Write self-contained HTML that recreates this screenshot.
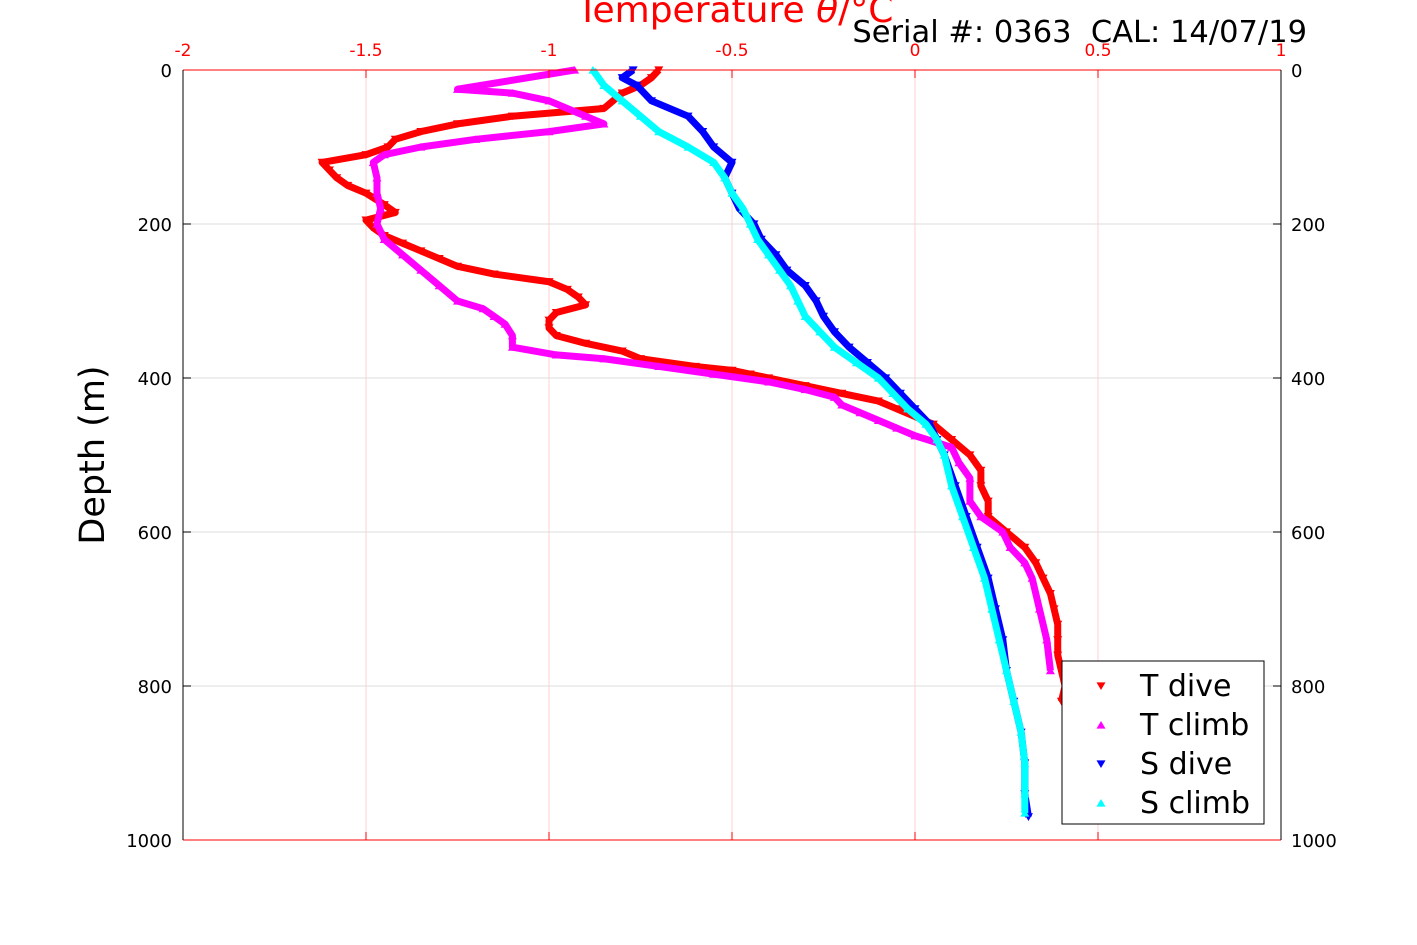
<!DOCTYPE html>
<html><head><meta charset="utf-8"><style>
html,body{margin:0;padding:0;background:#fff;}
svg{display:block;font-family:"DejaVu Sans","Liberation Sans",sans-serif;}
</style></head><body>
<svg id="chart" width="1417" height="945" viewBox="0 0 1417 945" xmlns="http://www.w3.org/2000/svg">
<rect x="0" y="0" width="1417" height="945" fill="#fff"/>
<g id="grid"></g>
<g id="series"></g>
<g id="axes"></g>
<text x="735" y="22" fill="#ff0000" font-size="36" text-anchor="middle">Temperature <tspan font-style="italic">θ</tspan>/°C</text>
<text xml:space="preserve" style="white-space:pre" x="1307" y="42" fill="#000" font-size="30.5" text-anchor="end">Serial #: 0363  CAL: 14/07/19</text>
<text transform="translate(104,455) rotate(-90)" fill="#000" font-size="35" text-anchor="middle">Depth (m)</text>
<g id="legend"></g>
</svg>
<script>
const xTicks=[-2,-1.5,-1,-0.5,0,0.5,1];
const xTickLabels=["-2","-1.5","-1","-0.5","0","0.5","1"];
const yTicks=[0,200,400,600,800,1000];
const yTickLabels=["0","200","400","600","800","1000"];
const seriesNames=["T dive","T climb","S dive","S climb"];
const seriesColors=["#ff0000","#ff00ff","#0000ff","#00ffff"];
const tDiveDepth=[0,10,20,30,50,60,70,80,90,100,110,120,130,140,150,160,175,185,195,205,215,225,235,245,255,265,275,285,295,305,315,325,335,345,355,365,375,385,390,395,400,410,420,430,440,450,460,480,500,520,540,560,580,600,620,640,660,680,700,720,740,760,780,800,820];
const tDiveTemp=[-0.7,-0.72,-0.75,-0.8,-0.85,-1.1,-1.25,-1.35,-1.42,-1.44,-1.5,-1.62,-1.6,-1.58,-1.55,-1.5,-1.45,-1.42,-1.5,-1.48,-1.45,-1.4,-1.35,-1.3,-1.25,-1.15,-1.0,-0.95,-0.92,-0.9,-0.98,-1.0,-1.0,-0.98,-0.9,-0.8,-0.75,-0.6,-0.5,-0.45,-0.4,-0.3,-0.2,-0.1,-0.05,0.0,0.05,0.1,0.15,0.18,0.18,0.2,0.2,0.25,0.3,0.33,0.35,0.37,0.38,0.39,0.39,0.39,0.4,0.41,0.4];
const tClimbDepth=[0,25,30,40,60,70,80,90,100,110,120,140,160,180,200,220,240,260,280,300,310,320,330,345,360,370,375,385,395,405,415,425,435,445,455,465,475,490,510,530,560,580,600,620,640,660,700,740,780];
const tClimbTemp=[-0.93,-1.25,-1.1,-1.0,-0.9,-0.85,-1.0,-1.2,-1.35,-1.45,-1.48,-1.47,-1.47,-1.46,-1.47,-1.45,-1.4,-1.35,-1.3,-1.25,-1.18,-1.15,-1.12,-1.1,-1.1,-0.98,-0.85,-0.7,-0.55,-0.4,-0.3,-0.22,-0.2,-0.15,-0.1,-0.05,0.0,0.1,0.12,0.15,0.15,0.18,0.24,0.26,0.3,0.32,0.34,0.36,0.37];
const sDiveDepth=[0,10,20,40,60,80,100,120,140,160,180,200,220,240,260,280,300,320,340,360,380,400,420,440,460,480,500,540,580,620,660,700,740,780,820,860,900,940,970];
const sDiveVal=[-0.77,-0.8,-0.76,-0.72,-0.62,-0.58,-0.55,-0.5,-0.52,-0.5,-0.48,-0.44,-0.42,-0.38,-0.35,-0.3,-0.27,-0.25,-0.22,-0.18,-0.13,-0.08,-0.04,0.0,0.04,0.06,0.08,0.11,0.14,0.17,0.2,0.22,0.24,0.25,0.27,0.29,0.3,0.3,0.31];
const sClimbDepth=[0,20,40,60,80,100,120,140,160,180,200,220,240,260,280,300,320,340,360,380,400,420,440,460,480,500,540,580,620,660,700,740,780,820,860,900,940,965];
const sClimbVal=[-0.88,-0.85,-0.8,-0.75,-0.7,-0.62,-0.55,-0.52,-0.5,-0.47,-0.45,-0.43,-0.4,-0.37,-0.34,-0.32,-0.3,-0.26,-0.22,-0.16,-0.1,-0.06,-0.02,0.03,0.06,0.08,0.1,0.13,0.16,0.19,0.21,0.23,0.25,0.27,0.29,0.3,0.3,0.3];

const L=183,R=1281,T=70,B=840;
const xs=v=>L+(v-(-2))/3*(R-L);
const ys=d=>T+d/1000*(B-T);
const NS="http://www.w3.org/2000/svg";
function mk(tag,attrs,parent){const e=document.createElementNS(NS,tag);for(const k in attrs)e.setAttribute(k,attrs[k]);parent.appendChild(e);return e;}
const grid=document.getElementById('grid'),axes=document.getElementById('axes'),ser=document.getElementById('series'),leg=document.getElementById('legend');
xTicks.forEach((v,i)=>{
  if(i>0&&i<xTicks.length-1){const g=mk('line',{x1:xs(v),x2:xs(v),y1:T,y2:B,stroke:'#ffd0d0','stroke-width':1},grid);
  
  }
  const t=mk('line',{x1:xs(v),x2:xs(v),y1:T,y2:T+8,stroke:'#ff0000'},axes);
  
  
  const b=mk('line',{x1:xs(v),x2:xs(v),y1:B,y2:B-8,stroke:'#ff0000'},axes);
  
  
  const lb=mk('text',{x:xs(v),y:56,fill:'#ff0000','font-size':17,'text-anchor':'middle'},axes);
  lb.textContent=xTickLabels[i];
  
  
});
yTicks.forEach((d,i)=>{
  if(i>0&&i<yTicks.length-1){const g=mk('line',{x1:L,x2:R,y1:ys(d),y2:ys(d),stroke:'#dcdcdc','stroke-width':1},grid);
  
  }
  const a=mk('line',{x1:L,x2:L+8,y1:ys(d),y2:ys(d),stroke:'#000'},axes);
  
  
  const b=mk('line',{x1:R,x2:R-8,y1:ys(d),y2:ys(d),stroke:'#000'},axes);
  
  
  const l1=mk('text',{x:L-11,y:ys(d)+7,'font-size':18,'text-anchor':'end',fill:'#000'},axes);
  l1.textContent=yTickLabels[i];
  
  
  const l2=mk('text',{x:R+10,y:ys(d)+7,'font-size':18,'text-anchor':'start',fill:'#000'},axes);
  l2.textContent=yTickLabels[i];
  
  
});
const fr=[[L,T,R,T,'#ff0000'],[L,B,R,B,'#ff0000'],[L,T,L,B,'#000'],[R,T,R,B,'#000']];
fr.forEach(f=>{const e=mk('line',{x1:f[0],y1:f[1],x2:f[2],y2:f[3],stroke:f[4]},axes);
  
  });
function tri(x,y,down,s){return down?`${x-s},${y-s*0.8} ${x+s},${y-s*0.8} ${x},${y+s*0.9}`:`${x-s},${y+s*0.8} ${x+s},${y+s*0.8} ${x},${y-s*0.9}`;}
const all=[[tDiveDepth,tDiveTemp,true],[tClimbDepth,tClimbTemp,false],[sDiveDepth,sDiveVal,true],[sClimbDepth,sClimbVal,false]];
all.forEach((s,k)=>{
  const g=mk('g',{},ser);
  
  
  const pts=s[0].map((d,i)=>xs(s[1][i])+','+ys(d)).join(' ');
  const pl=mk('polyline',{points:pts,fill:'none',stroke:seriesColors[k],'stroke-width':7,'stroke-linejoin':'round'},g);
  
  
  s[0].forEach((d,i)=>{const p=mk('polygon',{points:tri(xs(s[1][i]),ys(d),s[2],4.5),fill:seriesColors[k]},g);
    
    });
});
const box=mk('rect',{x:1062,y:661,width:202,height:163,fill:'#fff',stroke:'#000','stroke-width':1},leg);


seriesNames.forEach((n,k)=>{
  const y=686+k*39;
  const p=mk('polygon',{points:tri(1101,y,k%2===0,4.5),fill:seriesColors[k]},leg);
  
  
  const t=mk('text',{x:1140,y:y+10,'font-size':30,fill:'#000'},leg);
  t.textContent=n;
  
  
});
</script>
</body></html>
